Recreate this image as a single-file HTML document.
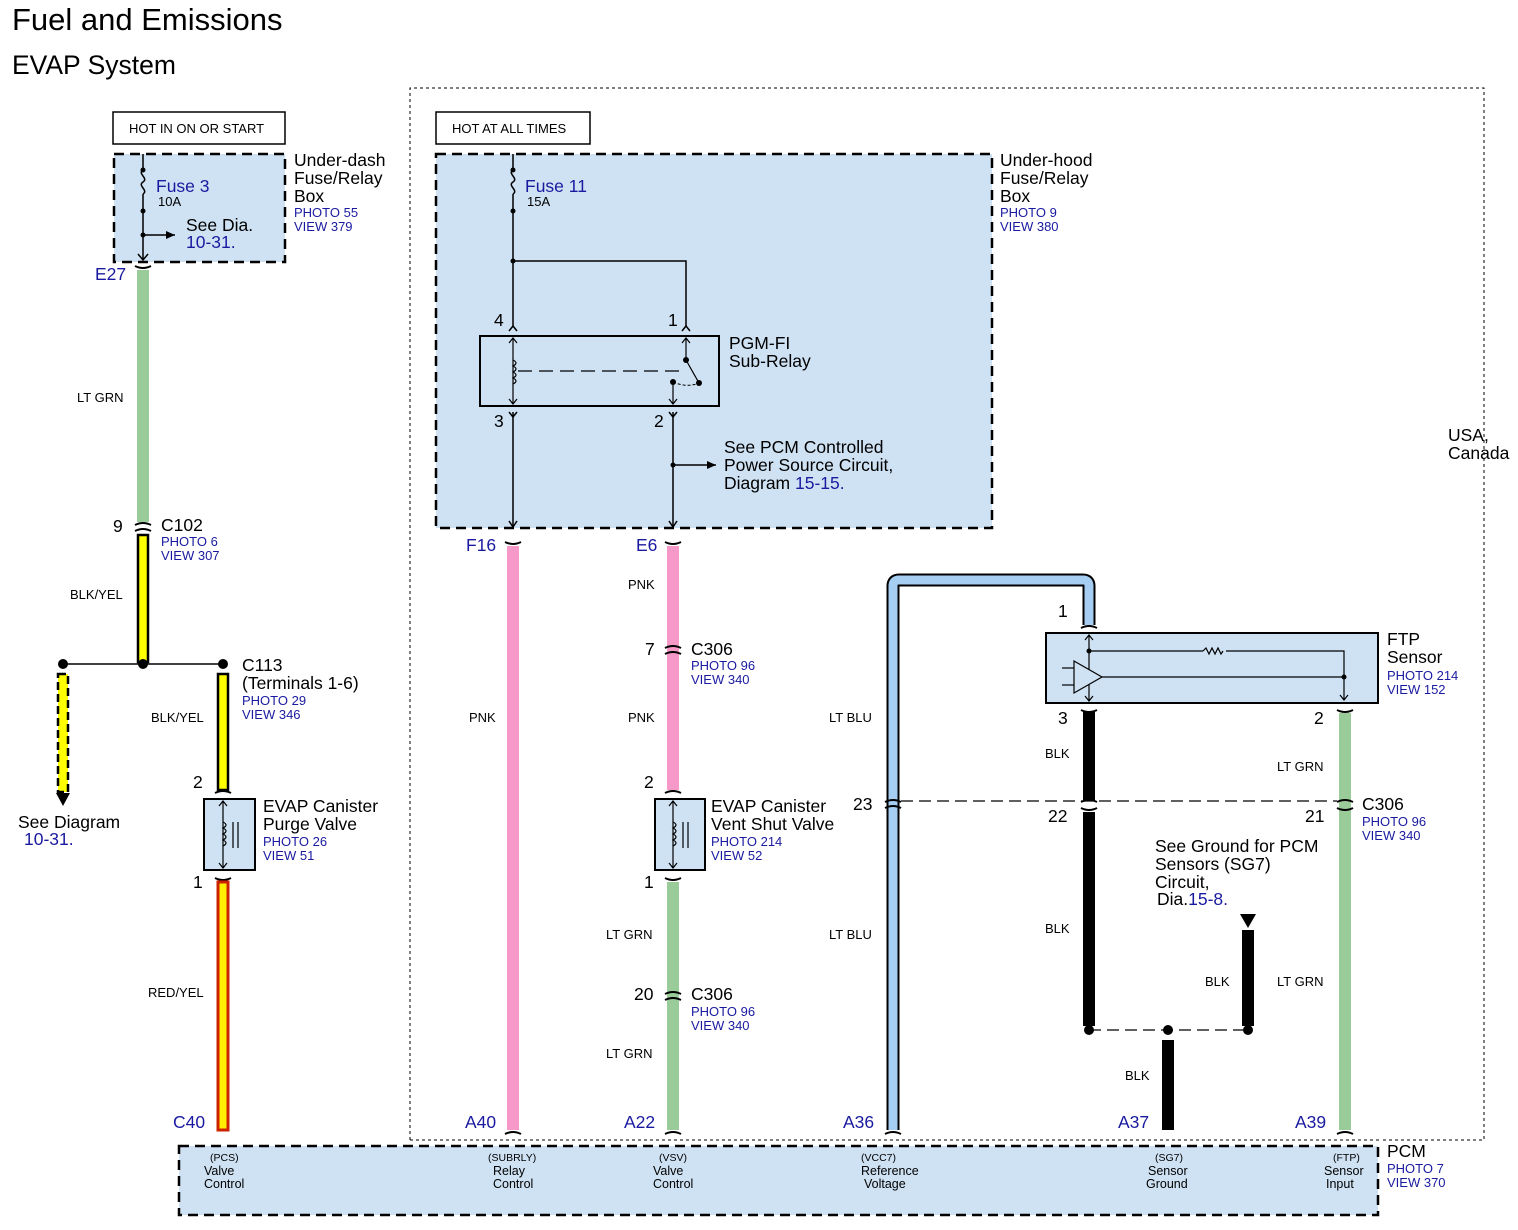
<!DOCTYPE html>
<html><head><meta charset="utf-8"><style>
html,body{margin:0;padding:0;background:#fff;}
svg{display:block;font-family:"Liberation Sans",Arial,sans-serif;}
.b{fill:#1a1aa0;}
.s{font-size:13px;}
.m{font-size:17.5px;}
</style></head><body>
<svg width="1518" height="1230" viewBox="0 0 1518 1230" xmlns="http://www.w3.org/2000/svg">
<defs>
<marker id="ar" markerWidth="10" markerHeight="10" refX="9" refY="5" orient="auto" markerUnits="userSpaceOnUse"><path d="M0,1 L9,5 L0,9 z" fill="#000"/></marker>
</defs>
<text x="12" y="30" font-size="31">Fuel and Emissions</text>
<text x="12" y="74" font-size="26.5">EVAP System</text>

<path d="M410,1140 L410,88 L1484,88 L1484,1140 L1380,1140 M410,1140 L1380,1140" fill="none" stroke="#000" stroke-width="1" stroke-dasharray="3,3"/>
<text x="1448" y="441" class="m">USA,</text>
<text x="1448" y="459" class="m">Canada</text>

<rect x="113" y="112" width="172" height="32" fill="#fff" stroke="#000" stroke-width="1.5"/>
<text x="129" y="133" font-size="13">HOT IN ON OR START</text>
<rect x="436" y="112" width="154" height="32" fill="#fff" stroke="#000" stroke-width="1.5"/>
<text x="452" y="133" font-size="13">HOT AT ALL TIMES</text>

<rect x="114" y="154" width="171" height="108" fill="#cfe2f3" stroke="#000" stroke-width="2.5" stroke-dasharray="10,6"/>
<line x1="143" y1="154" x2="143" y2="170" stroke="#000" stroke-width="1.5"/>
<path d="M143,170 c-6,4 6,8 0,12 c-6,4 6,8 0,12" fill="none" stroke="#000" stroke-width="1.5"/>
<line x1="143" y1="194" x2="143" y2="260" stroke="#000" stroke-width="1.5"/>
<circle cx="143" cy="170" r="2.5"/><circle cx="143" cy="211" r="2.5"/><circle cx="143" cy="235" r="2.5"/>
<line x1="143" y1="235" x2="175" y2="235" stroke="#000" stroke-width="1.5" marker-end="url(#ar)"/>
<path d="M138,254 L143,260 L148,254" fill="none" stroke="#000" stroke-width="1.5"/>
<text x="156" y="192" class="m b">Fuse 3</text>
<text x="158" y="206" class="s">10A</text>
<text x="186" y="231" class="m">See Dia.</text>
<text x="186" y="248" class="m b">10-31.</text>
<text x="294" y="166" class="m">Under-dash</text>
<text x="294" y="184" class="m">Fuse/Relay</text>
<text x="294" y="202" class="m">Box</text>
<text x="294" y="217" class="s b">PHOTO 55</text>
<text x="294" y="231" class="s b">VIEW 379</text>
<text x="95" y="280" class="m b">E27</text>

<line x1="143" y1="270" x2="143" y2="522" stroke="#99cc99" stroke-width="12"/>
<path d="M135,266 q8,4 16,0" fill="none" stroke="#000" stroke-width="2"/>
<text x="77" y="402" class="s">LT GRN</text>
<path d="M135,525 q8,-4 16,0 M135,531 q8,-4 16,0" fill="none" stroke="#000" stroke-width="2"/>
<text x="113" y="532" class="m">9</text>
<text x="161" y="531" class="m">C102</text>
<text x="161" y="546" class="s b">PHOTO 6</text>
<text x="161" y="560" class="s b">VIEW 307</text>
<rect x="138" y="535" width="10" height="127" fill="#ffff00" stroke="#000" stroke-width="2.5"/>
<text x="70" y="599" class="s">BLK/YEL</text>
<line x1="63" y1="664" x2="223" y2="664" stroke="#000" stroke-width="1.5"/>
<circle cx="63" cy="664" r="5"/><circle cx="143" cy="664" r="5"/><circle cx="223" cy="664" r="5"/>
<rect x="58" y="674" width="10" height="118" fill="#ffff00" stroke="#000" stroke-width="2.5" stroke-dasharray="8,4"/>
<path d="M56,793 L70,793 L63,806 z"/>
<text x="18" y="828" class="m">See Diagram</text>
<text x="24" y="845" class="m b">10-31.</text>
<rect x="218" y="674" width="10" height="116" fill="#ffff00" stroke="#000" stroke-width="2.5"/>
<text x="151" y="722" class="s">BLK/YEL</text>
<text x="242" y="671" class="m">C113</text>
<text x="242" y="689" class="m">(Terminals 1-6)</text>
<text x="242" y="705" class="s b">PHOTO 29</text>
<text x="242" y="719" class="s b">VIEW 346</text>
<path d="M215,793 q8,-4 16,0" fill="none" stroke="#000" stroke-width="2"/>
<text x="193" y="788" class="m">2</text>
<rect x="204" y="799" width="51" height="71" fill="#cfe2f3" stroke="#000" stroke-width="2"/>
<line x1="223" y1="801" x2="223" y2="868" stroke="#000" stroke-width="1.2"/>
<path d="M219,806 L223,801 L227,806 M219,863 L223,868 L227,863" fill="none" stroke="#000" stroke-width="1.2"/>
<path d="M223,822 q6,3 0,6 q6,3 0,6 q6,3 0,6 q6,3 0,6" fill="none" stroke="#000" stroke-width="1.2"/>
<line x1="233" y1="822" x2="233" y2="848" stroke="#000" stroke-width="1.2"/><line x1="238" y1="822" x2="238" y2="848" stroke="#000" stroke-width="1.2"/>
<text x="263" y="812" class="m">EVAP Canister</text>
<text x="263" y="830" class="m">Purge Valve</text>
<text x="263" y="846" class="s b">PHOTO 26</text>
<text x="263" y="860" class="s b">VIEW 51</text>
<path d="M215,878 q8,4 16,0" fill="none" stroke="#000" stroke-width="2"/>
<text x="193" y="888" class="m">1</text>
<rect x="218" y="882" width="10" height="248" fill="#ffee00" stroke="#cc2200" stroke-width="3"/>
<text x="148" y="997" class="s">RED/YEL</text>
<text x="173" y="1128" class="m b">C40</text>

<rect x="436" y="154" width="556" height="374" fill="#cfe2f3" stroke="#000" stroke-width="2.5" stroke-dasharray="10,6"/>
<line x1="513" y1="154" x2="513" y2="170" stroke="#000" stroke-width="1.5"/>
<path d="M513,170 c-6,4 6,8 0,12 c-6,4 6,8 0,12" fill="none" stroke="#000" stroke-width="1.5"/>
<line x1="513" y1="194" x2="513" y2="327" stroke="#000" stroke-width="1.5"/>
<circle cx="513" cy="170" r="2.5"/><circle cx="513" cy="211" r="2.5"/><circle cx="513" cy="261" r="2.5"/>
<polyline points="513,261 686,261 686,327" fill="none" stroke="#000" stroke-width="1.5"/>
<text x="525" y="192" class="m b">Fuse 11</text>
<text x="527" y="206" class="s">15A</text>
<text x="1000" y="166" class="m">Under-hood</text>
<text x="1000" y="184" class="m">Fuse/Relay</text>
<text x="1000" y="202" class="m">Box</text>
<text x="1000" y="217" class="s b">PHOTO 9</text>
<text x="1000" y="231" class="s b">VIEW 380</text>
<path d="M509,331 L513,326 L517,331 M682,331 L686,326 L690,331" fill="none" stroke="#000" stroke-width="1.5"/>
<text x="494" y="326" class="m">4</text>
<text x="668" y="326" class="m">1</text>
<rect x="480" y="336" width="239" height="70" fill="#cfe2f3" stroke="#000" stroke-width="2"/>
<line x1="513" y1="338" x2="513" y2="404" stroke="#000" stroke-width="1.2"/>
<path d="M509,343 L513,338 L517,343 M509,399 L513,404 L517,399" fill="none" stroke="#000" stroke-width="1.2"/>
<path d="M513,360 q6,3 0,6 q6,3 0,6 q6,3 0,6 q6,3 0,6" fill="none" stroke="#000" stroke-width="1.2"/>
<line x1="518" y1="371" x2="682" y2="371" stroke="#000" stroke-width="1.2" stroke-dasharray="14,7"/>
<line x1="686" y1="338" x2="686" y2="360" stroke="#000" stroke-width="1.2"/>
<path d="M682,343 L686,338 L690,343" fill="none" stroke="#000" stroke-width="1.2"/>
<circle cx="686" cy="360" r="3"/><line x1="686" y1="360" x2="699" y2="383" stroke="#000" stroke-width="1.2"/><circle cx="699" cy="383" r="3"/>
<circle cx="673" cy="382" r="3"/><path d="M673,382 q14,6 26,1" fill="none" stroke="#000" stroke-width="1" stroke-dasharray="3,2"/>
<line x1="673" y1="382" x2="673" y2="404" stroke="#000" stroke-width="1.2"/>
<path d="M669,399 L673,404 L677,399" fill="none" stroke="#000" stroke-width="1.2"/>
<text x="729" y="349" class="m">PGM-FI</text>
<text x="729" y="367" class="m">Sub-Relay</text>
<path d="M509,412 L513,417 L517,412 M669,412 L673,417 L677,412" fill="none" stroke="#000" stroke-width="1.5"/>
<text x="494" y="427" class="m">3</text>
<text x="654" y="427" class="m">2</text>
<line x1="513" y1="412" x2="513" y2="527" stroke="#000" stroke-width="1.5"/>
<line x1="673" y1="412" x2="673" y2="527" stroke="#000" stroke-width="1.5"/>
<path d="M509,521 L513,527 L517,521 M669,521 L673,527 L677,521" fill="none" stroke="#000" stroke-width="1.5"/>
<circle cx="673" cy="465" r="2.5"/>
<line x1="673" y1="465" x2="716" y2="465" stroke="#000" stroke-width="1.5" marker-end="url(#ar)"/>
<text x="724" y="453" class="m">See PCM Controlled</text>
<text x="724" y="471" class="m">Power Source Circuit,</text>
<text x="724" y="489" class="m">Diagram <tspan class="b">15-15.</tspan></text>

<text x="466" y="551" class="m b">F16</text>
<path d="M505,542 q8,4 16,0" fill="none" stroke="#000" stroke-width="2"/>
<line x1="513" y1="546" x2="513" y2="1130" stroke="#f799c8" stroke-width="12"/>
<path d="M505,1134 q8,-4 16,0" fill="none" stroke="#000" stroke-width="2"/>
<text x="469" y="722" class="s">PNK</text>
<text x="465" y="1128" class="m b">A40</text>

<text x="636" y="551" class="m b">E6</text>
<path d="M665,542 q8,4 16,0" fill="none" stroke="#000" stroke-width="2"/>
<line x1="673" y1="546" x2="673" y2="790" stroke="#f799c8" stroke-width="12"/>
<text x="628" y="589" class="s">PNK</text>
<text x="628" y="722" class="s">PNK</text>
<path d="M665,648 q8,-4 16,0 M665,654 q8,-4 16,0" fill="none" stroke="#000" stroke-width="2"/>
<text x="645" y="655" class="m">7</text>
<text x="691" y="655" class="m">C306</text>
<text x="691" y="670" class="s b">PHOTO 96</text>
<text x="691" y="684" class="s b">VIEW 340</text>
<path d="M665,793 q8,-4 16,0" fill="none" stroke="#000" stroke-width="2"/>
<text x="644" y="788" class="m">2</text>
<rect x="655" y="799" width="50" height="71" fill="#cfe2f3" stroke="#000" stroke-width="2"/>
<line x1="673" y1="801" x2="673" y2="868" stroke="#000" stroke-width="1.2"/>
<path d="M669,806 L673,801 L677,806 M669,863 L673,868 L677,863" fill="none" stroke="#000" stroke-width="1.2"/>
<path d="M673,822 q6,3 0,6 q6,3 0,6 q6,3 0,6 q6,3 0,6" fill="none" stroke="#000" stroke-width="1.2"/>
<line x1="683" y1="822" x2="683" y2="848" stroke="#000" stroke-width="1.2"/><line x1="688" y1="822" x2="688" y2="848" stroke="#000" stroke-width="1.2"/>
<text x="711" y="812" class="m">EVAP Canister</text>
<text x="711" y="830" class="m">Vent Shut Valve</text>
<text x="711" y="846" class="s b">PHOTO 214</text>
<text x="711" y="860" class="s b">VIEW 52</text>
<path d="M665,878 q8,4 16,0" fill="none" stroke="#000" stroke-width="2"/>
<text x="644" y="888" class="m">1</text>
<line x1="673" y1="882" x2="673" y2="1130" stroke="#99cc99" stroke-width="12"/>
<text x="606" y="939" class="s">LT GRN</text>
<path d="M665,994 q8,-4 16,0 M665,1000 q8,-4 16,0" fill="none" stroke="#000" stroke-width="2"/>
<text x="634" y="1000" class="m">20</text>
<text x="691" y="1000" class="m">C306</text>
<text x="691" y="1016" class="s b">PHOTO 96</text>
<text x="691" y="1030" class="s b">VIEW 340</text>
<text x="606" y="1058" class="s">LT GRN</text>
<path d="M665,1134 q8,-4 16,0" fill="none" stroke="#000" stroke-width="2"/>
<text x="624" y="1128" class="m b">A22</text>

<path d="M893,1130 L893,586 Q893,580 899,580 L1083,580 Q1089,580 1089,586 L1089,625" fill="none" stroke="#000" stroke-width="13"/>
<path d="M893,1130 L893,586 Q893,580 899,580 L1083,580 Q1089,580 1089,586 L1089,625" fill="none" stroke="#a6cdf2" stroke-width="9"/>
<path d="M1081,628 q8,-4 16,0" fill="none" stroke="#000" stroke-width="2"/>
<text x="1058" y="617" class="m">1</text>
<text x="829" y="722" class="s">LT BLU</text>
<text x="829" y="939" class="s">LT BLU</text>
<path d="M885,802 q8,-4 16,0 M885,808 q8,-4 16,0" fill="none" stroke="#000" stroke-width="2"/>
<text x="853" y="810" class="m">23</text>
<path d="M885,1134 q8,-4 16,0" fill="none" stroke="#000" stroke-width="2"/>
<text x="843" y="1128" class="m b">A36</text>

<rect x="1046" y="633" width="332" height="70" fill="#cfe2f3" stroke="#000" stroke-width="2"/>
<line x1="1089" y1="635" x2="1089" y2="701" stroke="#000" stroke-width="1.2"/>
<path d="M1085,640 L1089,635 L1093,640 M1085,696 L1089,701 L1093,696" fill="none" stroke="#000" stroke-width="1.2"/>
<circle cx="1089" cy="651" r="2.5"/>
<polyline points="1089,651 1203,651" fill="none" stroke="#000" stroke-width="1.2"/>
<path d="M1203,651 l3,-3 l3,6 l3,-6 l3,6 l3,-6 l3,6 l2,-3" fill="none" stroke="#000" stroke-width="1.2"/>
<polyline points="1226,651 1344,651 1344,700" fill="none" stroke="#000" stroke-width="1.2"/>
<path d="M1340,695 L1344,700 L1348,695" fill="none" stroke="#000" stroke-width="1.2"/>
<path d="M1074,661 L1102,677 L1074,693 z" fill="#cfe2f3" stroke="#000" stroke-width="1.2"/>
<line x1="1062" y1="668" x2="1074" y2="668" stroke="#000" stroke-width="1.2"/><line x1="1062" y1="685" x2="1074" y2="685" stroke="#000" stroke-width="1.2"/>
<line x1="1102" y1="677" x2="1344" y2="677" stroke="#000" stroke-width="1.2"/><circle cx="1344" cy="677" r="2.5"/>
<text x="1387" y="645" class="m">FTP</text>
<text x="1387" y="663" class="m">Sensor</text>
<text x="1387" y="680" class="s b">PHOTO 214</text>
<text x="1387" y="694" class="s b">VIEW 152</text>
<text x="1058" y="724" class="m">3</text>
<text x="1314" y="724" class="m">2</text>

<path d="M1081,710 q8,4 16,0" fill="none" stroke="#000" stroke-width="2"/>
<line x1="1089" y1="712" x2="1089" y2="800" stroke="#000" stroke-width="12"/>
<line x1="1089" y1="812" x2="1089" y2="1026" stroke="#000" stroke-width="12"/>
<path d="M1081,802 q8,-4 16,0 M1081,808 q8,4 16,0" fill="none" stroke="#000" stroke-width="2"/>
<text x="1045" y="758" class="s">BLK</text>
<text x="1048" y="822" class="m">22</text>
<text x="1045" y="933" class="s">BLK</text>
<line x1="901" y1="801" x2="1337" y2="801" stroke="#000" stroke-width="1.2" stroke-dasharray="12,6"/>
<line x1="1089" y1="1030" x2="1248" y2="1030" stroke="#000" stroke-width="1.2" stroke-dasharray="12,6"/>
<circle cx="1089" cy="1030" r="5"/><circle cx="1168" cy="1030" r="5"/><circle cx="1248" cy="1030" r="5"/>
<line x1="1248" y1="930" x2="1248" y2="1026" stroke="#000" stroke-width="12"/>
<path d="M1240,914 L1256,914 L1248,928 z"/>
<text x="1155" y="852" class="m">See Ground for PCM</text>
<text x="1155" y="870" class="m">Sensors (SG7)</text>
<text x="1155" y="888" class="m">Circuit,</text>
<text x="1157" y="905" class="m">Dia.<tspan class="b">15-8.</tspan></text>
<text x="1205" y="986" class="s">BLK</text>
<line x1="1168" y1="1040" x2="1168" y2="1130" stroke="#000" stroke-width="12"/>
<text x="1125" y="1080" class="s">BLK</text>
<text x="1118" y="1128" class="m b">A37</text>

<path d="M1337,710 q8,4 16,0" fill="none" stroke="#000" stroke-width="2"/>
<line x1="1345" y1="713" x2="1345" y2="1130" stroke="#99cc99" stroke-width="12"/>
<path d="M1337,802 q8,-4 16,0 M1337,808 q8,4 16,0" fill="none" stroke="#000" stroke-width="2"/>
<text x="1277" y="771" class="s">LT GRN</text>
<text x="1305" y="822" class="m">21</text>
<text x="1362" y="810" class="m">C306</text>
<text x="1362" y="826" class="s b">PHOTO 96</text>
<text x="1362" y="840" class="s b">VIEW 340</text>
<text x="1277" y="986" class="s">LT GRN</text>
<path d="M1337,1134 q8,-4 16,0" fill="none" stroke="#000" stroke-width="2"/>
<text x="1295" y="1128" class="m b">A39</text>

<rect x="179" y="1146" width="1199" height="69" fill="#cfe2f3" stroke="#000" stroke-width="2.5" stroke-dasharray="10,6"/>
<g font-size="12.5" fill="#000">
<text x="210" y="1161" font-size="10.5">(PCS)</text><text x="204" y="1175">Valve</text><text x="204" y="1188">Control</text>
<text x="488" y="1161" font-size="10.5">(SUBRLY)</text><text x="493" y="1175">Relay</text><text x="493" y="1188">Control</text>
<text x="659" y="1161" font-size="10.5">(VSV)</text><text x="653" y="1175">Valve</text><text x="653" y="1188">Control</text>
<text x="861" y="1161" font-size="10.5">(VCC7)</text><text x="861" y="1175">Reference</text><text x="864" y="1188">Voltage</text>
<text x="1155" y="1161" font-size="10.5">(SG7)</text><text x="1148" y="1175">Sensor</text><text x="1146" y="1188">Ground</text>
<text x="1333" y="1161" font-size="10.5">(FTP)</text><text x="1324" y="1175">Sensor</text><text x="1326" y="1188">Input</text>
</g>
<text x="1387" y="1157" class="m">PCM</text>
<text x="1387" y="1173" class="s b">PHOTO 7</text>
<text x="1387" y="1187" class="s b">VIEW 370</text>
</svg>
</body></html>
